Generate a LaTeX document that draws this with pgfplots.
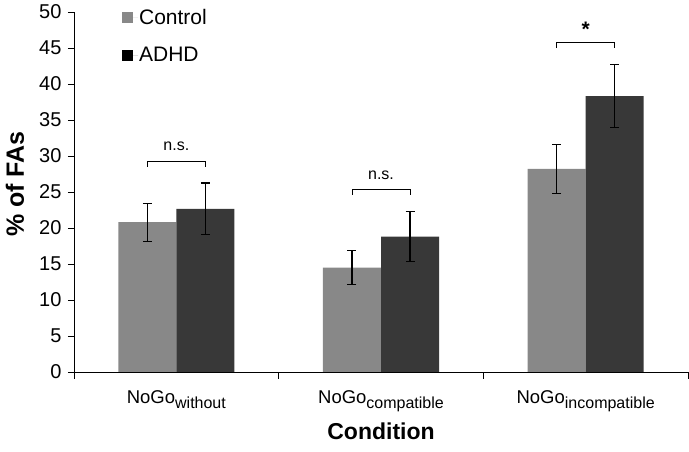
\documentclass[border=0pt]{standalone}
\usepackage{fontspec}
\setmainfont{Liberation Sans}
\usepackage{pgfplots}
\pgfplotsset{compat=1.18}
\definecolor{ctrl}{HTML}{888888}
\definecolor{adhd}{HTML}{383838}
\newcommand{\sub}[1]{\raisebox{-0.3em}{\fontsize{16}{18}\selectfont #1}}
\begin{document}
\begin{tikzpicture}
\useasboundingbox (-74pt,-80pt) rectangle (615pt,372pt);
\begin{axis}[
  scale only axis,
  width=614pt, height=360pt,
  at={(0,0)}, anchor=south west,
  ymin=0, ymax=50, ytick={0,5,...,50},
  xmin=-0.5, xmax=2.5,
  xtick={0,1,2},
  xticklabels={NoGo\sub{without},NoGo\sub{compatible},NoGo\sub{incompatible}},
  minor xtick={-0.5,0.5,1.5,2.5},
  major x tick style={draw=none},
  minor tick length=7pt,
  major tick length=6pt,
  tick align=outside,
  axis x line*=bottom, axis y line*=left,
  axis line style={black, line width=0.9pt, -},
  tick style={black, line width=0.9pt},
  /pgf/number format/assume math mode=true,
  yticklabel style={font=\fontsize{20}{22}\selectfont, xshift=-3pt},
  xticklabel style={font=\fontsize{18.5}{22}\selectfont, yshift=-9pt},
  xlabel={\textbf{Condition}},
  xlabel style={font=\fontsize{23}{26}\selectfont, at={(axis description cs:0.5,0)}, anchor=center, yshift=-59pt},
  ylabel={\textbf{\% of FAs}},
  ylabel style={font=\fontsize{25}{28}\selectfont, at={(axis description cs:-0.0961,0.522)}, anchor=center},
  legend style={draw=none, fill=none, at={(axis description cs:0.078,1.01)}, anchor=north west,
    font=\fontsize{21}{24}\selectfont, row sep=19pt, inner sep=0pt,
    nodes={inner sep=1pt}},
  legend cell align=left,
  legend image code/.code={\path (0pt,0pt) -- (16pt,0pt); \fill[#1] (0pt,-5.5pt) rectangle (11pt,5.5pt);},
  clip=false,
]
\addlegendimage{fill=ctrl, draw=none}
\addlegendentry{Control}
\addlegendimage{fill=black, draw=none}
\addlegendentry{ADHD}
% Control bars (category position - 0.1417)
\addplot[ybar, bar width=58pt, bar shift=0pt, fill=ctrl, draw=none,
  error bars/.cd, y dir=both, y explicit,
  error bar style={black, line width=1.1pt},
  error mark options={rotate=90, mark size=4.5pt, black, line width=1.1pt}]
  coordinates {(-0.1417,20.8) +- (0,2.65) (0.8583,14.5) +- (0,2.35) (1.8583,28.2) +- (0,3.35)};
% ADHD bars (category position + 0.1417)
\addplot[ybar, bar width=58pt, bar shift=0pt, fill=adhd, draw=none,
  error bars/.cd, y dir=both, y explicit,
  error bar style={black, line width=1.1pt},
  error mark options={rotate=90, mark size=4.5pt, black, line width=1.1pt}]
  coordinates {(0.1417,22.65) +- (0,3.6) (1.1417,18.8) +- (0,3.45) (2.1417,38.3) +- (0,4.4)};
% significance brackets
\draw[black, line width=0.9pt] (axis cs:-0.1417,28.5) -- (axis cs:-0.1417,29.3) -- (axis cs:0.1417,29.3) -- (axis cs:0.1417,28.5);
\node[font=\fontsize{16}{18}\selectfont] at (axis cs:0,31.3) {n.s.};
\draw[black, line width=0.9pt] (axis cs:0.8583,24.6) -- (axis cs:0.8583,25.4) -- (axis cs:1.1417,25.4) -- (axis cs:1.1417,24.6);
\node[font=\fontsize{16}{18}\selectfont] at (axis cs:1,27.3) {n.s.};
\draw[black, line width=0.9pt] (axis cs:1.8583,45.0) -- (axis cs:1.8583,45.8) -- (axis cs:2.1417,45.8) -- (axis cs:2.1417,45.0);
\node[font=\bfseries\fontsize{21}{24}\selectfont] at (axis cs:2,47.6) {*};
\end{axis}
\end{tikzpicture}
\end{document}
